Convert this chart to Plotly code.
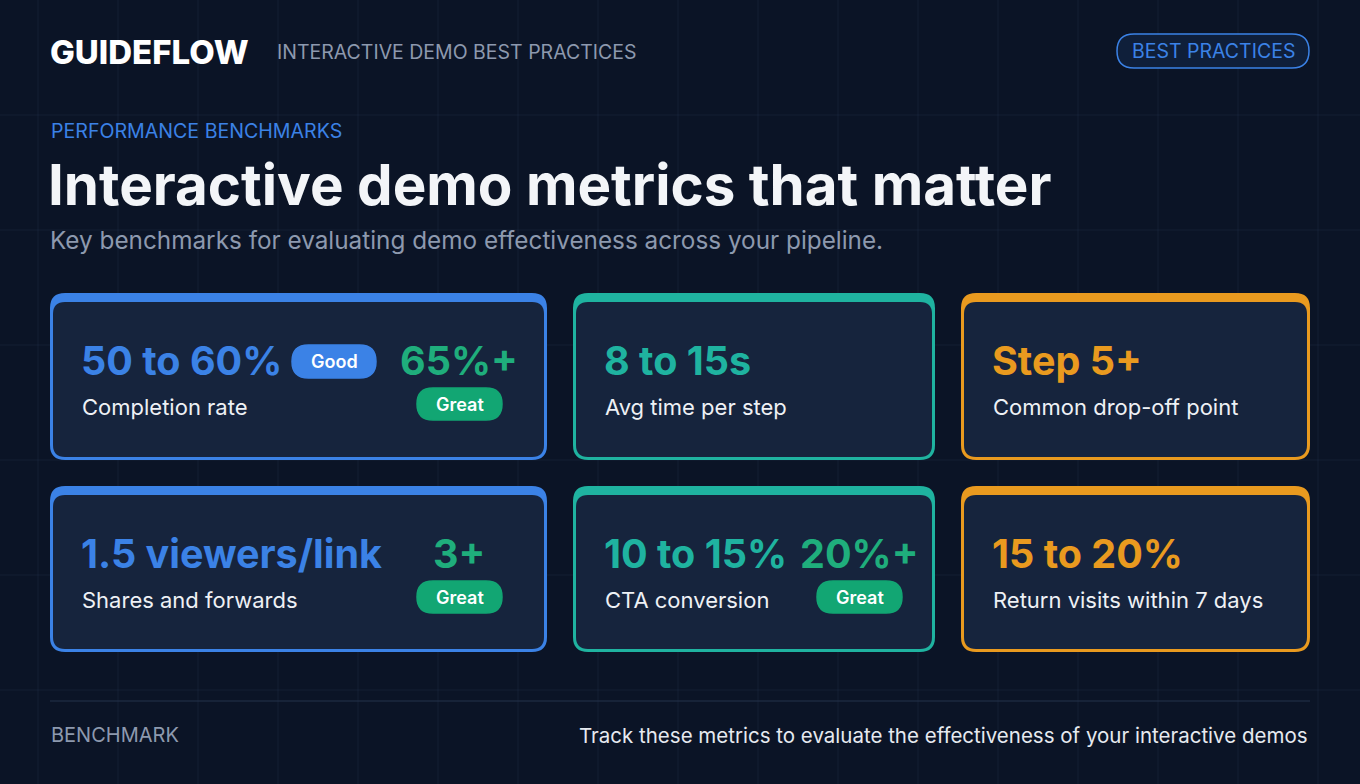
import plotly.graph_objects as go

W, H = 1360, 784
BG = "#0b1426"
CARD = "#16243d"
BLUE = "#3b82e6"
TEAL = "#1fb3a0"
ORANGE = "#e99a1f"
GREEN = "#12a673"
GREEN_TXT = "#1fae7c"
GRAY = "#8d99ae"
FONT = "Inter"

# Data
card_values = ["50 to 60%", "8 to 15s", "Step 5+", "1.5 viewers/link", "10 to 15%", "15 to 20%"]
card_labels = ["Completion rate", "Avg time per step", "Common drop-off point",
               "Shares and forwards", "CTA conversion", "Return visits within 7 days"]
card_colors = [BLUE, TEAL, ORANGE, BLUE, TEAL, ORANGE]
great_values = ["65%+", None, None, "3+", "20%+", None]

col_x = [(50, 547), (573, 935), (961, 1310)]
row_y = [(293, 460), (486, 652)]

fig = go.Figure()

def rr(x0, y0, x1, y1, r):
    return (f"M{x0+r},{y0} L{x1-r},{y0} Q{x1},{y0} {x1},{y0+r} L{x1},{y1-r} Q{x1},{y1} {x1-r},{y1} "
            f"L{x0+r},{y1} Q{x0},{y1} {x0},{y1-r} L{x0},{y0+r} Q{x0},{y0} {x0+r},{y0} Z")

shapes = []
ann = []

for gx in range(918 - 80 * 11, W, 80):
    shapes.append(dict(type="line", x0=gx, x1=gx, y0=0, y1=H, line=dict(color="rgba(60,80,110,0.18)", width=1), layer="below"))
for gy in [115, 230, 345, 460, 575, 690]:
    shapes.append(dict(type="line", x0=0, x1=W, y0=gy, y1=gy, line=dict(color="rgba(60,80,110,0.18)", width=1), layer="below"))

def text(x, y, s, size, color, weight=400, anchor="left"):
    ann.append(dict(x=x, y=y, text=s, showarrow=False, xanchor=anchor, yanchor="middle",
                    font=dict(family=FONT, size=size, color=color, weight=weight)))

def pill(x0, x1, y0, y1, fill, label, size=18):
    shapes.append(dict(type="path", path=rr(x0, y0, x1, y1, (y1 - y0) / 2), fillcolor=fill,
                       line=dict(color=fill, width=1.5)))
    text((x0 + x1) / 2, (y0 + y1) / 2, label, size, "white", 600, "center")

# header
text(48, 52, "GUIDEFLOW", 33, "white", 800)
text(275, 52, "INTERACTIVE DEMO BEST PRACTICES", 19.5, GRAY)
shapes.append(dict(type="path", path=rr(1117, 34, 1309, 68, 17), fillcolor="#0f1f3a", line=dict(color=BLUE, width=1.5)))
text(1213, 51, "BEST PRACTICES", 19.5, BLUE, 400, "center")

text(49, 131, "PERFORMANCE BENCHMARKS", 19.6, BLUE)
text(46, 184, "Interactive demo metrics that matter", 56.5, "#f3f5f8", 700)
text(48, 240, "Key benchmarks for evaluating demo effectiveness across your pipeline.", 24.3, GRAY)

for i, (val, lab, col, gv) in enumerate(zip(card_values, card_labels, card_colors, great_values)):
    r, c = divmod(i, 3)
    x0, x1 = col_x[c]
    y0, y1 = row_y[r]
    shapes.append(dict(type="path", path=rr(x0, y0, x1, y1, 15), fillcolor=col, line=dict(width=0)))
    shapes.append(dict(type="path", path=rr(x0 + 3, y0 + 9, x1 - 3, y1 - 3, 12), fillcolor=CARD, line=dict(width=0)))
    vy = y0 + 68
    ly = y0 + 114
    text(x0 + 29, vy, val, 39.5, col, 700)
    text(x0 + 30, ly, lab, 22, "#eef1f5")
    if gv:
        cx = 459 if c == 0 else 859
        text(cx, vy, gv, 39.5, GREEN_TXT, 700, "center")
        pill(cx - 42, cx + 43, y0 + 95, y0 + 127, GREEN, "Great")

pill(292, 376, 345, 378, BLUE, "Good")

shapes.append(dict(type="line", x0=50, x1=1310, y0=701, y1=701, line=dict(color="#24324a", width=1)))
text(49, 735, "BENCHMARK", 20, GRAY)
text(1310, 735, "Track these metrics to evaluate the effectiveness of your interactive demos", 20.5, "#e6eaf0", 400, "right")

fig.update_layout(
    width=W, height=H, margin=dict(l=0, r=0, t=0, b=0),
    paper_bgcolor=BG, plot_bgcolor=BG,
    xaxis=dict(range=[0, W], visible=False, fixedrange=True),
    yaxis=dict(range=[H, 0], visible=False, fixedrange=True),
    shapes=shapes, annotations=ann, showlegend=False,
)
fig.write_html("out.html", config={"displayModeBar": False},
               post_script="document.body.style.margin='0';document.body.style.background='#0b1426';")
